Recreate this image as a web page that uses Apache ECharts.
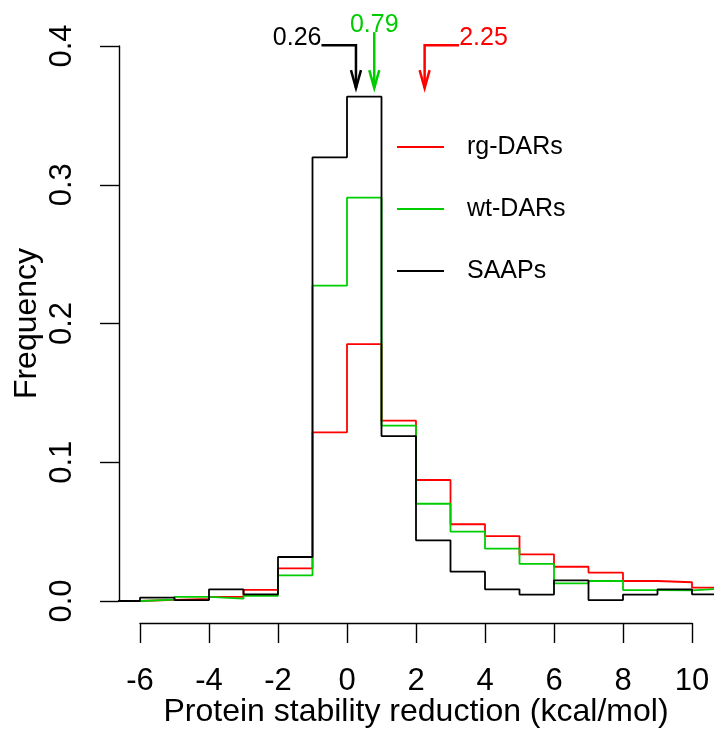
<!DOCTYPE html>
<html>
<head>
<meta charset="utf-8">
<script src="https://cdn.jsdelivr.net/npm/echarts@6/dist/echarts.min.js"></script>
<style>
  html, body { margin: 0; padding: 0; background: #fff; }
  #chart { width: 714px; height: 730px; }
</style>
</head>
<body>
<div id="chart"></div>
<script>
// Histogram bin edges (kcal/mol), one more than the number of bins
const binEdges = [-7, -6, -5, -4, -3, -2, -1, 0, 1, 2, 3, 4, 5, 6, 7, 8, 9, 10, 11];

// Relative frequency per bin
const rgDARs = [0, 0.0008, 0.0015, 0.003, 0.008, 0.0235, 0.1216, 0.1852, 0.130, 0.0872,
                0.0553, 0.0468, 0.0336, 0.0247, 0.0204, 0.0144, 0.0135, 0.0096];
const wtDARs = [0, 0.001, 0.003, 0.0017, 0.0038, 0.0185, 0.2273, 0.2907, 0.1264, 0.0701,
                0.050, 0.0377, 0.0267, 0.0127, 0.0144, 0.0079, 0.0077, 0.0091];
const SAAPs  = [0, 0.0024, 0.0007, 0.0084, 0.0048, 0.0317, 0.3198, 0.3635, 0.1189, 0.0437,
                0.0211, 0.0084, 0.0046, 0.0149, 0.0007, 0.0046, 0.0084, 0.0048];

const seriesNames = ['rg-DARs', 'wt-DARs', 'SAAPs'];
const seriesColors = ['#FF0000', '#00CD00', '#000000'];

// Mean stability reduction of each set, marked with an arrow above the peak
const meanValues = [2.25, 0.79, 0.26];
const meanLabelSide = [1, 0, -1];   // label to the right, above, to the left

// Axis ticks
const xTicks = [-6, 10, 2];     // min, max, step
const yTicks = [0, 0.4, 0.1];

const FONT = "'Liberation Sans', Arial, Helvetica, sans-serif";

// Plot-region geometry (pixels) used to size the two grids
const W = 714, H = 730;
const axisBox = { left: 140, right: 22, top: 46, bottom: 129 };   // spans -6..10 and 0..0.4
const plotBox = { left: 119, right: 0, top: 24, bottom: 107 };    // full clipping region
const pxPerX = (W - axisBox.left - axisBox.right) / (xTicks[1] - xTicks[0]);
const pxPerY = (H - axisBox.top - axisBox.bottom) / (yTicks[1] - yTicks[0]);
const plotXMin = xTicks[0] - (axisBox.left - plotBox.left) / pxPerX;
const plotXMax = xTicks[1] + (axisBox.right - plotBox.right) / pxPerX;
const plotYMin = yTicks[0] - (axisBox.bottom - plotBox.bottom) / pxPerY;
const plotYMax = yTicks[1] + (axisBox.top - plotBox.top) / pxPerY;

function stepData(values) {
  const pts = values.map((v, i) => [binEdges[i], v]);
  pts.push([binEdges[binEdges.length - 1], values[values.length - 1]]);
  return pts;
}

// Arrow geometry in data units
const leaderY = 0.4005;
const tipY = 0.3697;
const straightTopY = 0.410;

function renderArrow(params, api) {
  const i = params.dataIndex;
  const v = api.value(0);
  const side = api.value(1);
  const color = seriesColors[i];
  const tip = api.coord([v, tipY]);
  const children = [];
  let textEl;
  if (side !== 0) {
    const corner = api.coord([v, leaderY]);
    const end = api.coord([v + side, leaderY]);
    children.push({
      type: 'polyline',
      shape: { points: [end, corner, tip] },
      style: { stroke: color, lineWidth: 2.5, fill: null }
    });
    textEl = {
      type: 'text',
      style: {
        text: v.toFixed(2), x: end[0], y: end[1] + 5,
        align: side < 0 ? 'right' : 'left', verticalAlign: 'bottom',
        fill: color, font: '25px ' + FONT
      }
    };
  } else {
    const top = api.coord([v, straightTopY]);
    children.push({
      type: 'line',
      shape: { x1: top[0], y1: top[1], x2: tip[0], y2: tip[1] },
      style: { stroke: color, lineWidth: 2.5 }
    });
    textEl = {
      type: 'text',
      style: {
        text: v.toFixed(2), x: top[0], y: top[1] + 5,
        align: 'center', verticalAlign: 'bottom',
        fill: color, font: '25px ' + FONT
      }
    };
  }
  children.push({
    type: 'polyline',
    shape: { points: [[tip[0] - 5, tip[1] - 18], tip, [tip[0] + 5, tip[1] - 18]] },
    style: { stroke: color, lineWidth: 2.5, fill: null }
  });
  children.push(textEl);
  return { type: 'group', children };
}

const histograms = [rgDARs, wtDARs, SAAPs];

const option = {
  backgroundColor: '#ffffff',
  animation: false,
  textStyle: { fontFamily: FONT, color: '#000' },
  grid: [
    { left: axisBox.left, right: axisBox.right, top: axisBox.top, bottom: axisBox.bottom,
      containLabel: false, outerBoundsMode: 'none' },
    { left: plotBox.left, right: plotBox.right, top: plotBox.top, bottom: plotBox.bottom,
      containLabel: false, outerBoundsMode: 'none' }
  ],
  xAxis: [
    {
      gridIndex: 0, type: 'value', min: xTicks[0], max: xTicks[1], interval: xTicks[2],
      position: 'bottom', offset: 22,
      axisLine: { show: true, onZero: false, lineStyle: { color: '#000', width: 1.4 } },
      axisTick: { show: true, length: 20, lineStyle: { color: '#000', width: 1.4 } },
      axisLabel: { fontSize: 31, color: '#000', margin: 43, fontFamily: FONT },
      splitLine: { show: false },
      name: 'Protein stability reduction (kcal/mol)',
      nameLocation: 'middle', nameGap: 73, nameMoveOverlap: false,
      nameTextStyle: { fontSize: 32, color: '#000', fontFamily: FONT }
    },
    {
      gridIndex: 1, type: 'value', min: plotXMin, max: plotXMax,
      show: false, axisLine: { onZero: false }
    }
  ],
  yAxis: [
    {
      gridIndex: 0, type: 'value', min: yTicks[0], max: yTicks[1], interval: yTicks[2],
      position: 'left', offset: 21,
      axisLine: { show: true, onZero: false, lineStyle: { color: '#000', width: 1.4 } },
      axisTick: { show: true, length: 19, lineStyle: { color: '#000', width: 1.4 } },
      axisLabel: {
        fontSize: 31, color: '#000', margin: 41, rotate: 90, fontFamily: FONT,
        formatter: v => v.toFixed(1)
      },
      splitLine: { show: false },
      name: 'Frequency', nameLocation: 'middle', nameGap: 76, nameMoveOverlap: false,
      nameTextStyle: { fontSize: 32, color: '#000', fontFamily: FONT }
    },
    {
      gridIndex: 1, type: 'value', min: plotYMin, max: plotYMax,
      show: false, axisLine: { onZero: false }
    }
  ],
  legend: {
    data: seriesNames,
    orient: 'vertical',
    left: 397, top: 134, padding: 0,
    icon: 'rect', itemWidth: 47, itemHeight: 2,
    itemGap: 36,
    textStyle: { fontSize: 25, lineHeight: 26, color: '#000', fontFamily: FONT, padding: [0, 0, 0, 18] },
    selectedMode: false
  },
  series: [
    ...histograms.map((vals, i) => ({
      name: seriesNames[i],
      type: 'line',
      xAxisIndex: 1, yAxisIndex: 1,
      step: 'end',
      showSymbol: false,
      symbol: 'none',
      clip: true,
      data: stepData(vals),
      lineStyle: { color: seriesColors[i], width: 1.8 },
      itemStyle: { color: seriesColors[i] },
      z: 2 + i
    })),
    {
      type: 'custom',
      xAxisIndex: 1, yAxisIndex: 1,
      renderItem: renderArrow,
      data: meanValues.map((v, i) => [v, meanLabelSide[i]]),
      clip: false,
      z: 10
    }
  ]
};

const chart = echarts.init(document.getElementById('chart'), null, { renderer: 'canvas' });
chart.setOption(option);
</script>
</body>
</html>
